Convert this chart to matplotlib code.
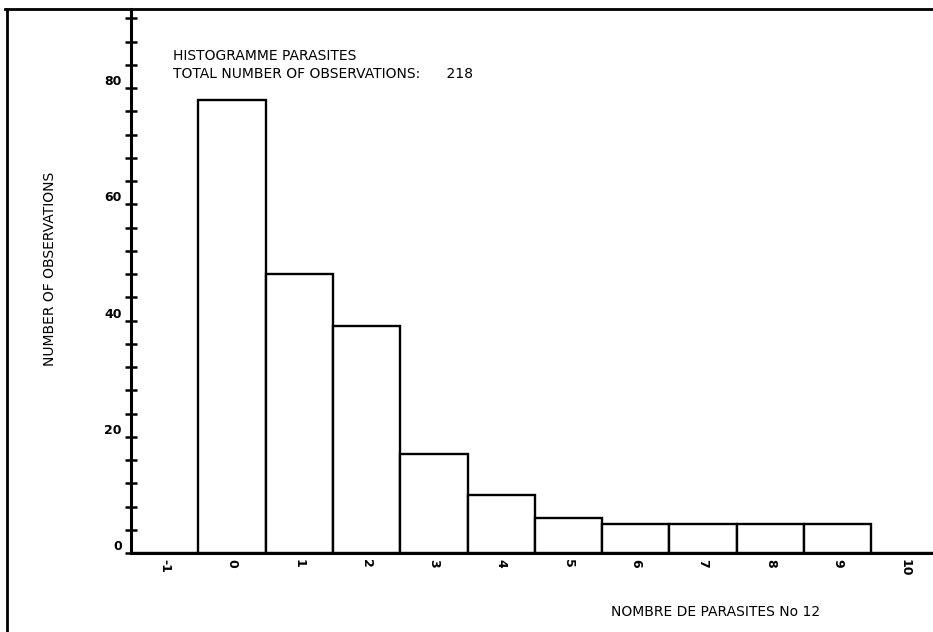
import matplotlib
matplotlib.use("Agg")
import matplotlib.pyplot as plt
from matplotlib.lines import Line2D
import numpy as np

# ---- data ----
categories = [-1, 0, 1, 2, 3, 4, 5, 6, 7, 8, 9, 10]
counts = [0, 78, 48, 39, 17, 10, 6, 5, 5, 5, 5, 0]
xtick_labels = ["-1", "0", "1", "2", "3", "4", "5", "6", "7", "8", "9", "10"]
ytick_values = [0, 20, 40, 60, 80]
ytick_labels = ["0", "20", "40", "60", "80"]
title_lines = ["HISTOGRAMME PARASITES", "TOTAL NUMBER OF OBSERVATIONS:      218"]
ylabel = "NUMBER OF OBSERVATIONS"
xlabel = "NOMBRE DE PARASITES No 12"

plt.rcParams['font.family'] = ['DejaVu Sans']

W, H = 933, 632
fig = plt.figure(figsize=(W / 100, H / 100), dpi=100)
fig.patch.set_facecolor("white")

left_px, right_px, top_px, bottom_px = 131, 933, 9, 553
ax = fig.add_axes([left_px / W, (H - bottom_px) / H,
                   (right_px - left_px) / W, (bottom_px - top_px) / H])
px_per_unit_x = 67.3
px_per_unit_y = 5.81
ax.set_xlim(-1.5, -1.5 + (right_px - left_px) / px_per_unit_x)
ax.set_ylim(0, (bottom_px - top_px) / px_per_unit_y)

ax.bar(categories, counts, width=1.0, facecolor="white",
       edgecolor="black", linewidth=1.7, zorder=2)

for s in ["top", "right"]:
    ax.spines[s].set_visible(False)
for s in ["left", "bottom"]:
    ax.spines[s].set_linewidth(2.2)
    ax.spines[s].set_zorder(3)

ax.set_yticks(ytick_values)
ax.set_yticklabels(ytick_labels)
ax.set_yticks(np.arange(0, 94, 4), minor=True)
ax.tick_params(axis="y", which="both", direction="inout", length=9,
               width=1.8, labelsize=9, pad=2)
ax.tick_params(axis="y", which="minor", labelleft=False)
for t in ax.get_yticklabels():
    t.set_fontweight("bold")
    t.set_verticalalignment("bottom")

ax.set_xticks(categories)
ax.set_xticklabels(xtick_labels, rotation=-90, fontsize=9, fontweight="bold")
ax.tick_params(axis="x", length=0, pad=4)

# frame lines of the scanned page
fig.add_artist(Line2D([5 / W, 1.0], [1 - 9 / H, 1 - 9 / H], color="black", lw=2.0))
fig.add_artist(Line2D([7 / W, 7 / W], [0, 1 - 9 / H], color="black", lw=2.0))

fs = 10
fig.text(173 / W, 1 - 60 / H, title_lines[0], fontsize=fs, ha="left", va="baseline")
fig.text(173 / W, 1 - 78 / H, title_lines[1], fontsize=fs, ha="left", va="baseline")
fig.text(50 / W, 1 - 269 / H, ylabel, fontsize=fs, rotation=90, ha="center", va="center")
fig.text(716 / W, 1 - 612 / H, xlabel, fontsize=fs, ha="center", va="center")

fig.savefig("out.png", dpi=100, facecolor="white")
